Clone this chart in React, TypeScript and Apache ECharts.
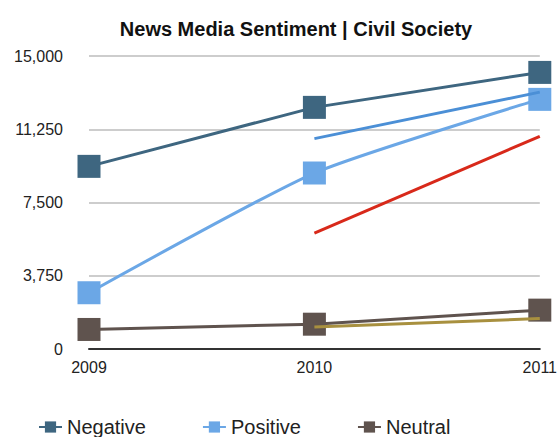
import React, { useEffect, useRef } from "react";
import * as echarts from "echarts";

// Years on the category axis and y-axis tick values
const years = ["2009", "2010", "2011"];
const yTicks = [0, 3750, 7500, 11250, 15000];

// Article counts by sentiment
const negative = [9350, 12370, 14160];
const positive = [2880, 9010, 12780];
const neutral = [1000, 1270, 1990];

// Trend lines (2010 → 2011)
const trendBlue = [null, 10770, 13150];
const trendRed = [null, 5930, 10890];
const trendOlive = [null, 1130, 1560];

const FONT = "'Liberation Sans', Arial, Helvetica, sans-serif";

export default function App() {
  const ref = useRef<HTMLDivElement>(null);

  useEffect(() => {
    if (!ref.current) return;
    const chart = echarts.init(ref.current, null, { renderer: "svg" });

    const mainSeries = (name: string, data: number[], color: string, smooth: number) => ({
      name,
      type: "line",
      data,
      smooth,
      symbol: "rect",
      symbolSize: 23,
      z: 2,
      lineStyle: { color, width: 3 },
      itemStyle: { color },
    });

    const trend = (name: string, data: (number | null)[], color: string) => ({
      name,
      type: "line",
      data,
      symbol: "none",
      z: 3,
      lineStyle: { color, width: 3 },
      itemStyle: { color },
      connectNulls: false,
    });

    chart.setOption({
      animation: false,
      title: {
        text: "News Media Sentiment | Civil Society",
        left: 291,
        textAlign: "center",
        top: 14,
        textStyle: { fontFamily: FONT, fontSize: 20, fontWeight: "bold", color: "#111" },
      },
      legend: {
        data: ["Negative", "Positive", "Neutral"],
        left: 33,
        top: 412,
        itemWidth: 23,
        itemHeight: 14,
        itemGap: 56,
        textStyle: { fontFamily: FONT, fontSize: 20, color: "#222" },
      },
      grid: { left: 89, right: 20, top: 56, bottom: 88 },
      xAxis: {
        type: "category",
        data: years,
        boundaryGap: false,
        axisLine: { lineStyle: { color: "#333", width: 2 } },
        axisTick: { show: false },
        axisLabel: { fontFamily: FONT, fontSize: 16, color: "#222", margin: 10 },
      },
      yAxis: {
        type: "value",
        min: yTicks[0],
        max: yTicks[yTicks.length - 1],
        interval: yTicks[1] - yTicks[0],
        axisLine: { show: false },
        axisTick: { show: false },
        splitLine: { lineStyle: { color: "#bdbdbd", width: 1.5 } },
        axisLabel: {
          fontFamily: FONT,
          fontSize: 16,
          color: "#222",
          margin: 26,
          formatter: (v: number) => v.toLocaleString("en-US"),
        },
      },
      series: [
        mainSeries("Negative", negative, "#3e6680", 0),
        mainSeries("Positive", positive, "#6ba7e6", 0.2),
        mainSeries("Neutral", neutral, "#5f534e", 0),
        trend("Negative trend", trendBlue, "#4b8fd6"),
        trend("Positive trend", trendRed, "#d8291a"),
        trend("Neutral trend", trendOlive, "#a8903f"),
      ],
    });

    return () => chart.dispose();
  }, []);

  return <div ref={ref} style={{ width: 560, height: 437, position: "absolute", left: 0, top: 0 }} />;
}
